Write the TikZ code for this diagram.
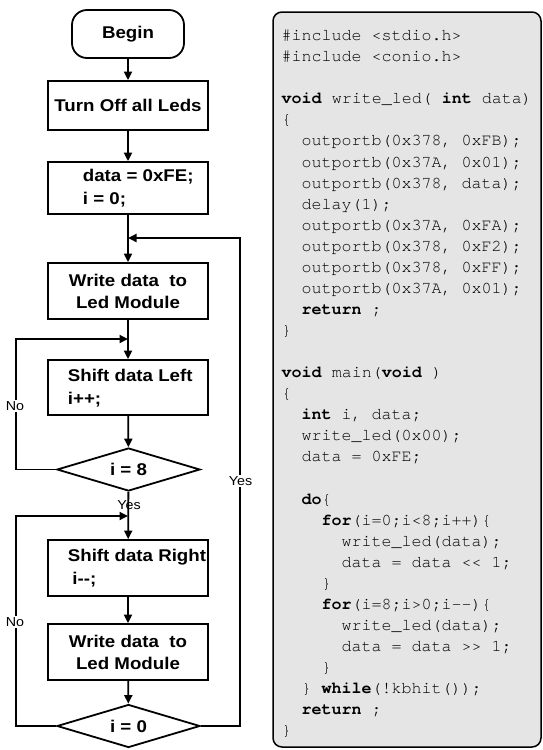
\documentclass[tikz,border=0pt]{standalone}
\usepackage{fontspec}
\usetikzlibrary{shapes.geometric,arrows.meta,positioning}
\newfontfamily\flowfont{Liberation Sans}[FakeStretch=1.1]
\newfontfamily\codefont{texgyrecursor}[Extension=.otf,UprightFont=*-regular,BoldFont=*-bold]
\definecolor{panelgray}{RGB}{229,229,229}

\tikzset{
  block/.style={draw, line width=1.8pt, minimum width=160pt, inner sep=0pt, align=center,
    font=\flowfont\bfseries\fontsize{17}{22}\selectfont},
  terminal/.style={block, rounded corners=15pt, minimum width=112pt, minimum height=48pt},
  decision/.style={block, diamond, aspect=3.3, minimum width=143pt, minimum height=43pt},
  boxtext/.style={anchor=west, inner sep=0pt, align=left,
    font=\flowfont\bfseries\fontsize{17}{23}\selectfont},
  flowlabel/.style={inner sep=1pt, font=\flowfont\fontsize{13}{15}\selectfont},
}

\begin{document}
\begin{tikzpicture}[x=1pt, y=-1pt, >={Triangle[length=8.5pt,width=8pt]}, line width=1.8pt]
    \useasboundingbox (0,0) rectangle (542,750);

    % Flow chart blocks
    \node (begin) [terminal] at (128,34) {Begin};
    \node (ledsoff) [block, minimum height=49pt] at (128,105.5) {Turn Off all Leds};
    \node (init) [block, minimum height=52pt] at (128,188) {};
    \node (initText) [boxtext] at (82,188.5) {data = 0xFE;\\ i = 0;};
    \node (writeA) [block, minimum height=56pt] at (128,291) {Write data~~to\\ Led Module};
    \node (shiftL) [block, minimum height=55pt] at (128,387.5) {};
    \node (shiftLText) [boxtext] at (67,388) {Shift data Left\\ i++;};
    \node (testA) [decision] at (128.5,469.5) {i = 8};
    \node (shiftR) [block, minimum height=56pt] at (128,568) {};
    \node (shiftRText) [boxtext] at (67,568) {Shift data Right\\ \hspace{4.5pt}i\mbox{-}\mbox{-};};
    \node (writeB) [block, minimum height=56pt] at (128,652) {Write data~~to\\ Led Module};
    \node (testB) [decision] at (128.5,726) {i = 0};

    % Joints of the loops
    \coordinate (joinA) at (128,238);
    \coordinate (joinB) at (128,339);
    \coordinate (joinC) at (128,516);
    \coordinate (cornerA) at (16,339);
    \coordinate (cornerB) at (16,516);
    \coordinate (cornerC) at (240,238);

    % Straight arrows
    \node (yesA) [flowlabel] at (129,505) {Yes};
    \draw[->] (begin) -- (ledsoff);
    \draw[->] (ledsoff) -- (init);
    \draw[->] (init) -- (writeA);
    \draw[->] (writeA) -- (shiftL);
    \draw[->] (shiftL) -- (testA);
    \draw[->] (testA) -- (shiftR);
    \draw[->] (shiftR) -- (writeB);
    \draw[->] (writeB) -- (testB);

    % Loops back
    \draw[->] (testA.west) -| (cornerA) -- (joinB);
    \draw[->] (testB.west) -| (cornerB) -- (joinC);
    \draw[->] (testB.east) -| (cornerC) -- (joinA);
    \node (noA) [flowlabel, fill=white] at (15,406) {No};
    \node (noB) [flowlabel, fill=white] at (15,622) {No};
    \node (yesB) [flowlabel, fill=white] at (240.5,481) {Yes};

    % Program listing
    \node (panel) [draw, fill=panelgray, line width=1.5pt, rounded corners=9pt,
      minimum width=268pt, minimum height=735pt, inner sep=0pt] at (407,379.5) {};
    \node (listing) [anchor=north west, inner sep=0pt, align=left,
      font=\codefont\fontsize{16.67}{21.06}\selectfont] at (280.7,29) {%
\#include <stdio.h>\\
\#include <conio.h>\\
\mbox{}\\
\textbf{void} write\_led( \textbf{int} data)\\
\{\\
~~outportb(0x378, 0xFB);\\
~~outportb(0x37A, 0x01);\\
~~outportb(0x378, data);\\
~~delay(1);\\
~~outportb(0x37A, 0xFA);\\
~~outportb(0x378, 0xF2);\\
~~outportb(0x378, 0xFF);\\
~~outportb(0x37A, 0x01);\\
~~\textbf{return} ;\\
\}\\
\mbox{}\\
\textbf{void} main(\textbf{void} )\\
\{\\
~~\textbf{int} i, data;\\
~~write\_led(0x00);\\
~~data = 0xFE;\\
\mbox{}\\
~~\textbf{do}\{\\
~~~~\textbf{for}(i=0;i<8;i++)\{\\
~~~~~~write\_led(data);\\
~~~~~~data = data \mbox{<}\mbox{<} 1;\\
~~~~\}\\
~~~~\textbf{for}(i=8;i>0;i\mbox{-}\mbox{-})\{\\
~~~~~~write\_led(data);\\
~~~~~~data = data \mbox{>}\mbox{>} 1;\\
~~~~\}\\
~~\} \textbf{while}(!kbhit());\\
~~\textbf{return} ;\\
\}};
\end{tikzpicture}
\end{document}
